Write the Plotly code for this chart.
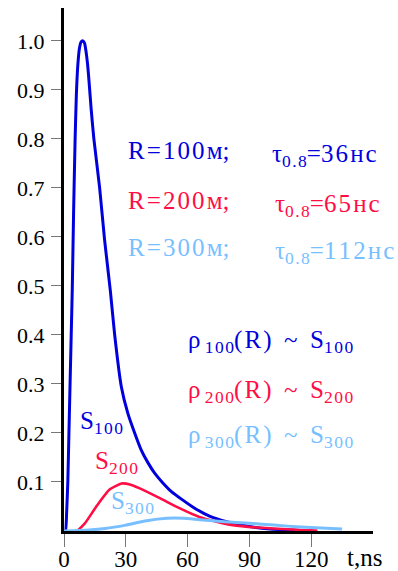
import plotly.graph_objects as go

# ---- data ----
t_s100 = [0, 0.7, 1.3, 1.85, 2.4, 3.0, 3.5, 4.0, 4.7, 5.4, 6.0, 6.7, 7.5, 8.3, 9.2, 10.0,
          10.8, 11.5, 12.1, 13.2, 14.5, 17.3, 19.7, 22.5,
          24.6, 27.8, 31.0, 34.3, 37.5, 40.8, 44.0, 48.0, 52.0, 57.7, 64.0, 70.9, 79.0,
          90.0, 100.0, 110.0, 120.0]
s100 = [0, 0.0, 0.04, 0.10, 0.20, 0.31, 0.40, 0.49, 0.66, 0.80, 0.89, 0.95, 0.985, 0.998, 1.0, 0.995,
        0.975, 0.95, 0.92, 0.86, 0.80, 0.70, 0.594, 0.49,
        0.40, 0.295, 0.24, 0.20, 0.165, 0.139, 0.118, 0.098, 0.081, 0.063, 0.045, 0.030, 0.019,
        0.009, 0.004, 0.002, 0.0]

t_s200 = [0, 6, 10, 15.7, 22, 28, 32, 36.8, 46.5, 56.3, 66, 74, 82, 94, 106, 115, 123]
s200 = [0, 0, 0.015, 0.05, 0.084, 0.097, 0.095, 0.087, 0.067, 0.046, 0.028, 0.019, 0.012,
        0.007, 0.004, 0.002, 0.001]

t_s300 = [0, 12, 20, 30, 40, 50, 58, 66, 78, 90, 102, 115, 125, 135]
s300 = [0, 0.002, 0.005, 0.012, 0.021, 0.026, 0.026, 0.023, 0.019, 0.016, 0.012, 0.008,
        0.006, 0.004]

x_ticks = [0, 30, 60, 90, 120]
x_tick_labels = ["0", "30", "60", "90", "120"]
y_ticks = [0.1, 0.2, 0.3, 0.4, 0.5, 0.6, 0.7, 0.8, 0.9, 1.0]
y_tick_labels = ["0.1", "0.2", "0.3", "0.4", "0.5", "0.6", "0.7", "0.8", "0.9", "1.0"]

BLUE = "#0000dd"
RED = "#ff0d45"
LBLUE = "#78bfff"
FONT = "Liberation Serif"
HS = "\u200a"   # hair space (letter spacing)


def spaced(s):
    return HS.join(list(s))


fig = go.Figure()
fig.add_trace(go.Scatter(x=t_s100, y=s100, mode="lines",
                         line=dict(color=BLUE, width=3, shape="spline", smoothing=0.5)))
fig.add_trace(go.Scatter(x=t_s200, y=s200, mode="lines",
                         line=dict(color=RED, width=2.6, shape="spline", smoothing=0.5)))
fig.add_trace(go.Scatter(x=t_s300, y=s300, mode="lines",
                         line=dict(color=LBLUE, width=3, shape="spline", smoothing=0.5)))


def ann(x, y, text, color, size=25):
    fig.add_annotation(x=x, y=y, xref="x", yref="y", text=text, showarrow=False,
                       xanchor="left", yanchor="middle",
                       font=dict(family=FONT, size=size, color=color))


# R / tau rows
rows = [("100", "36", BLUE, 0.777), ("200", "65", RED, 0.675), ("300", "112", LBLUE, 0.579)]
for r, tau, col, yv in rows:
    ann(30.2, yv, spaced("R=" + r + "м") + ";", col)
    ann(99.8 if r == "100" else 101.5, yv - 0.011,
        "τ<sub>" + spaced("0.8") + "</sub>=" + spaced(tau + "нс"), col)

# rho rows
rho_rows = [("100", BLUE, 0.386), ("200", RED, 0.284), ("300", LBLUE, 0.192)]
for r, col, yv in rho_rows:
    ann(59.3, yv,
        "ρ<sub> " + spaced(r) + "</sub>(" + HS + "R" + HS + ")\u2002~\u2002S<sub>" + spaced(r) + "</sub>",
        col)

# curve labels
ann(7.0, 0.222, "S<sub>" + spaced("100") + "</sub>", BLUE)
ann(14.3, 0.140, "S<sub>" + spaced("200") + "</sub>", RED)
ann(21.8, 0.058, "S<sub>" + spaced("300") + "</sub>", LBLUE)

# axis title (paper coords so it is not hidden outside the y range)
fig.add_annotation(x=(300.5 / 309), y=-26 / 523, xref="paper", yref="paper", text="t,ns",
                   showarrow=False, xanchor="center", yanchor="middle",
                   font=dict(family=FONT, size=25, color="black"))

fig.update_layout(
    width=398, height=571,
    margin=dict(l=64, r=25, t=8, b=40, autoexpand=False),
    paper_bgcolor="white", plot_bgcolor="white",
    showlegend=False,
    font=dict(family=FONT, size=22, color="black"),
)
fig.update_xaxes(range=[0, 150], showgrid=False, zeroline=False, automargin=False,
                 showline=True, linecolor="black", linewidth=3,
                 ticks="outside", ticklen=13, tickwidth=1, tickcolor="#777",
                 ticklabelstandoff=-8,
                 tickvals=x_ticks, ticktext=x_tick_labels,
                 tickfont=dict(family=FONT, size=23, color="black"))
fig.update_yaxes(range=[0, 1.067], showgrid=False, zeroline=False, automargin=False,
                 showline=True, linecolor="black", linewidth=3,
                 ticks="outside", ticklen=10, tickwidth=1, tickcolor="#777",
                 ticklabelstandoff=2,
                 tickvals=y_ticks, ticktext=y_tick_labels,
                 tickfont=dict(family=FONT, size=22, color="black"))

fig.write_html("out.html", config={"displayModeBar": False},
               post_script="document.body.style.margin='0';document.body.style.overflow='hidden';")
